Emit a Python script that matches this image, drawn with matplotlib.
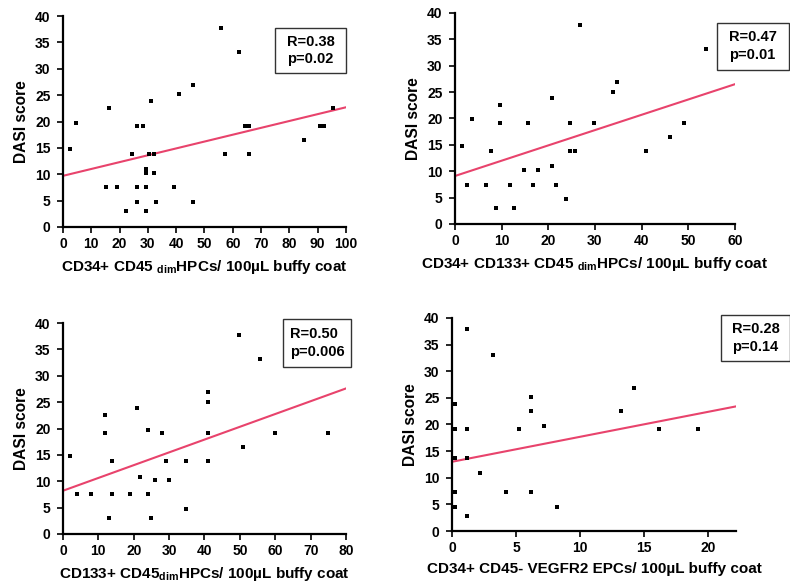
import matplotlib
matplotlib.use("Agg")
import matplotlib.pyplot as plt
from matplotlib.patches import Rectangle

plt.rcParams["font.family"] = ["Liberation Sans", "DejaVu Sans"]
plt.rcParams["font.weight"] = "bold"

# Panel A: CD34+ CD45dim HPCs
p1_x = [2.4, 4.5, 15.3, 16.2, 19.2, 22.2, 24.4, 26, 26, 26, 28.1, 29.3, 29.3, 29.3, 29.3,
        30.3, 31, 32.1, 32.1, 33, 39.3, 41, 45.8, 45.8, 56, 57.4, 62.1, 64.2, 65.9, 65.9,
        85, 90.9, 92.1, 95.5]
p1_y = [14.7, 19.8, 7.5, 22.6, 7.5, 3.0, 13.8, 19.1, 7.5, 4.8, 19.1, 7.5, 3.0, 11.0, 10.3,
        13.8, 23.9, 13.8, 10.3, 4.8, 7.5, 25.2, 26.9, 4.8, 37.8, 13.8, 33.2, 19.1, 19.1, 13.8,
        16.5, 19.1, 19.1, 22.6]
p1_fit = [9.7, 22.7]

# Panel B: CD34+ CD133+ CD45dim HPCs
p2_x = [1.6, 2.6, 3.6, 6.6, 7.7, 8.7, 9.7, 9.7, 11.7, 12.7, 14.7, 15.7, 16.7, 17.7, 20.7,
        20.8, 21.7, 23.7, 24.7, 24.7, 25.8, 26.8, 29.8, 33.8, 34.8, 41, 46, 49, 53.9]
p2_y = [14.7, 7.3, 19.9, 7.3, 13.9, 3.0, 22.5, 19.2, 7.3, 3.0, 10.3, 19.2, 7.3, 10.3, 23.8,
        11.0, 7.3, 4.7, 19.2, 13.9, 13.9, 37.8, 19.2, 25.1, 27.0, 13.8, 16.5, 19.2, 33.2]
p2_fit = [9.1, 26.5]

# Panel C: CD133+ CD45dim HPCs
p3_x = [1.9, 4.0, 7.8, 11.9, 11.9, 12.9, 14.0, 14.0, 18.9, 20.9, 21.9, 23.9, 23.9, 24.9,
        25.9, 28.0, 29.0, 29.9, 34.9, 34.9, 40.9, 40.9, 40.9, 40.9, 49.8, 50.8, 55.8, 59.9, 74.8]
p3_y = [14.8, 7.5, 7.5, 22.5, 19.1, 3.0, 13.8, 7.5, 7.5, 23.9, 10.9, 19.8, 7.5, 3.0,
        10.2, 19.1, 13.8, 10.2, 13.8, 4.7, 27.0, 25.1, 19.1, 13.8, 37.8, 16.5, 33.2, 19.1, 19.1]
p3_fit = [8.2, 27.6]

# Panel D: CD34+ CD45- VEGFR2 EPCs
p4_x = [0.2, 0.2, 0.2, 0.2, 0.2, 1.15, 1.15, 1.15, 1.15, 2.2, 3.2, 4.2, 5.2, 6.2, 6.2, 6.2,
        7.2, 8.2, 13.2, 14.2, 16.2, 19.2]
p4_y = [23.8, 19.1, 13.8, 7.4, 4.6, 37.9, 19.1, 13.8, 2.8, 10.9, 33.1, 7.4, 19.1, 25.1, 22.5,
        7.4, 19.8, 4.6, 22.5, 26.9, 19.1, 19.1]
p4_fit = [13.0, 23.4]

x_labels = [
    r"CD34+ CD45 $_{\mathregular{dim}}$HPCs/ 100µL buffy coat",
    r"CD34+ CD133+ CD45 $_{\mathregular{dim}}$HPCs/ 100µL buffy coat",
    r"CD133+ CD45$_{\mathregular{dim}}$HPCs/ 100µL buffy coat",
    "CD34+ CD45- VEGFR2 EPCs/ 100µL buffy coat",
]
stats = ["R=0.38\np=0.02", "R=0.47\np=0.01", "R=0.50\np=0.006", "R=0.28\np=0.14"]
x_max = [100, 60, 80, 22.2]
x_step = [10, 10, 10, 5]

panels = [(p1_x, p1_y, p1_fit), (p2_x, p2_y, p2_fit), (p3_x, p3_y, p3_fit), (p4_x, p4_y, p4_fit)]

ax_rects = [
    [0.0797, 0.6133, 0.3583, 0.3594],
    [0.5759, 0.6184, 0.3544, 0.3595],
    [0.0797, 0.0903, 0.3583, 0.3594],
    [0.5722, 0.0954, 0.3595, 0.3629],
]
box_rects = [
    [0.749, 0.730, 0.251, 0.213],
    [0.936, 0.730, 0.257, 0.223],
    [0.777, 0.791, 0.241, 0.228],
    [0.947, 0.798, 0.243, 0.216],
]

fig = plt.figure(figsize=(7.9, 5.87), dpi=100)

for i, (xs, ys, fit) in enumerate(panels):
    ax = fig.add_axes(ax_rects[i])
    ax.scatter(xs, ys, marker="s", s=6, color="black", linewidths=0, zorder=3)
    ax.plot([0, x_max[i]], fit, color="#e8436c", lw=1.5, zorder=2)

    ax.set_xlim(0, x_max[i])
    ax.set_ylim(0, 40)
    ticks = list(range(0, int(x_max[i]) + 1, x_step[i]))
    ax.set_xticks(ticks)
    ax.set_yticks(range(0, 41, 5))

    for s in ["top", "right"]:
        ax.spines[s].set_visible(False)
    for s in ["left", "bottom"]:
        ax.spines[s].set_linewidth(1.6)
    ax.tick_params(direction="out", length=4, width=1.2, labelsize=10)
    ax.tick_params(axis="x", pad=3)
    ax.tick_params(axis="y", pad=5)
    for lab in ax.get_xticklabels() + ax.get_yticklabels():
        lab.set_fontweight("bold")

    ax.set_ylabel("DASI score", fontsize=11.2, fontweight="bold", labelpad=4)
    ax.set_xlabel(x_labels[i], fontsize=11, fontweight="bold", labelpad=5)

    bx, by, bw, bh = box_rects[i]
    ax.add_patch(Rectangle((bx, by), bw, bh, transform=ax.transAxes, fill=False,
                           edgecolor="#333333", lw=1.0, clip_on=False))
    ax.text(bx + bw / 2, by + bh / 2, stats[i], transform=ax.transAxes,
            ha="center", va="center", multialignment="left",
            fontsize=10.5, fontweight="bold", linespacing=1.35)

fig.savefig("out.png", dpi=100)
